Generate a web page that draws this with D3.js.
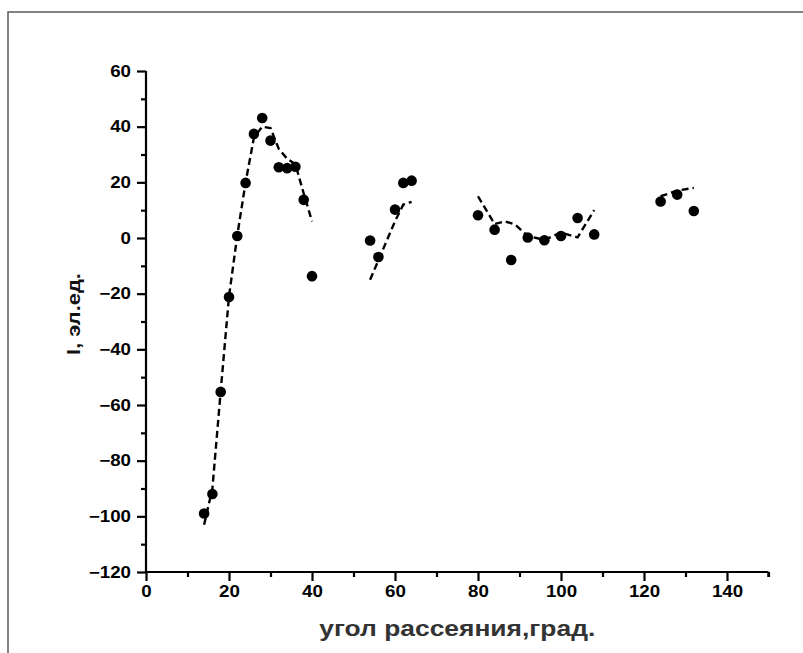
<!DOCTYPE html>
<html><head><meta charset="utf-8">
<script src="https://cdn.jsdelivr.net/npm/d3@7"></script>
<style>html,body{margin:0;padding:0;background:#fff;}svg{display:block;}</style>
</head><body>
<script>
// measured points
const pointX = [14,16,18,20,22,24,26,28,30,32,34,36,38,40, 54,56,60,62,64, 80,84,88,92,96,100,104,108, 124,128,132];
const pointY = [-99,-92,-55.3,-21.2,0.7,19.8,37.4,43.1,35,25.4,25.1,25.6,13.7,-13.7, -0.9,-6.8,10.2,19.8,20.6, 8.2,3,-7.9,0.2,-0.8,0.7,7.2,1.3, 13.1,15.6,9.7];
// fitted dashed curve, split in segments
const fit1X = [14,16,18,20,22,24,26,28,30,32,34,36,38,40];
const fit1Y = [-103,-90,-55,-21,1,20,36,40,39.5,32,28.5,26.5,16,6];
const fit2X = [54,56,58,60,62,64];
const fit2Y = [-15,-8,-1,6,12,13];
const fit3X = [80,84,86.5,89,92,96,100,104,108];
const fit3Y = [15,5,6,4.8,0.7,-0.7,2,0.2,10];
const fit4X = [124,128,132];
const fit4Y = [15,17,18];
const xTicks = [0,20,40,60,80,100,120,140];
const yTicks = [-120,-100,-80,-60,-40,-20,0,20,40,60];
const xTitle = "угол рассеяния,град.";
const yTitle = "I, эл.ед.";

const W = 803, H = 653;
const svg = d3.select("body").append("svg").attr("width", W).attr("height", H);
svg.append("rect").attr("x",8).attr("y",12).attr("width",820).attr("height",700)
  .attr("fill","none").attr("stroke","#5a5a5a").attr("stroke-width",1.5);

const x = d3.scaleLinear().domain([0,150]).range([146,768.5]);
const y = d3.scaleLinear().domain([-120,60]).range([572,71]);
const font = "'Liberation Sans', Arial, sans-serif";

function stretch(sel, k){
  sel.each(function(){
    const L = this.getComputedTextLength();
    d3.select(this).attr("textLength", L*k).attr("lengthAdjust","spacingAndGlyphs");
  });
}

// minor ticks
const gx = svg.append("g").attr("transform",`translate(0,${y(-120)})`);
gx.call(d3.axisBottom(x).tickValues(d3.range(10,151,20)).tickSize(5).tickFormat(""));
const gxM = svg.append("g").attr("transform",`translate(0,${y(-120)})`);
gxM.call(d3.axisBottom(x).tickValues(xTicks).tickSize(9).tickPadding(5).tickFormat(d3.format("d")));
const gy = svg.append("g").attr("transform",`translate(${x(0)},0)`);
gy.call(d3.axisLeft(y).tickValues(d3.range(-110,60,20)).tickSize(5).tickFormat(""));
const gyM = svg.append("g").attr("transform",`translate(${x(0)},0)`);
gyM.call(d3.axisLeft(y).tickValues(yTicks).tickSize(9).tickPadding(6).tickFormat(d3.format("d")));
[gx,gxM,gy,gyM].forEach(g=>{
  g.selectAll("path.domain").attr("stroke","#000").attr("stroke-width",2.2);
  g.selectAll(".tick line").attr("stroke","#000").attr("stroke-width",2.2);
  g.selectAll(".tick text").attr("font-family",font).attr("font-weight","bold")
    .attr("font-size",16).attr("fill","#000");
});
stretch(gxM.selectAll(".tick text"), 1.17);
stretch(gyM.selectAll(".tick text"), 1.17);
[gx,gy].forEach(g=>g.select("path.domain").remove());
gxM.select("path.domain").attr("d",`M${x(0)},0H${x(150)}`);
gyM.select("path.domain").attr("d",`M0,${y(60)}V${y(-120)}`);
gxM.append("line").attr("x1",x(150)).attr("x2",x(150)).attr("y1",0).attr("y2",5)
  .attr("stroke","#000").attr("stroke-width",2.5);

// dashed fits
const line = d3.line().x(d=>x(d[0])).y(d=>y(d[1]));
[[fit1X,fit1Y],[fit2X,fit2Y],[fit3X,fit3Y],[fit4X,fit4Y]].forEach(([xs,ys])=>{
  svg.append("path").datum(xs.map((v,i)=>[v,ys[i]])).attr("d",line)
    .attr("fill","none").attr("stroke","#000").attr("stroke-width",2.4)
    .attr("stroke-dasharray","7,4");
});

// points
svg.append("g").selectAll("circle").data(pointX.map((v,i)=>[v,pointY[i]])).join("circle")
  .attr("cx",d=>x(d[0])).attr("cy",d=>y(d[1])).attr("r",5.3).attr("fill","#000");

// titles
const xt = svg.append("text").attr("x",(x(0)+x(150))/2).attr("y",636).attr("text-anchor","middle")
  .attr("font-family",font).attr("font-weight","bold").attr("font-size",22).attr("fill","#333")
  .text(xTitle);
stretch(xt, 1.2);
const yt = svg.append("text").attr("transform",`translate(80,314) rotate(-90)`)
  .attr("text-anchor","middle").attr("font-family",font).attr("font-weight","bold")
  .attr("font-size",19).attr("fill","#111").text(yTitle);
stretch(yt, 1.15);
</script>
</body></html>
